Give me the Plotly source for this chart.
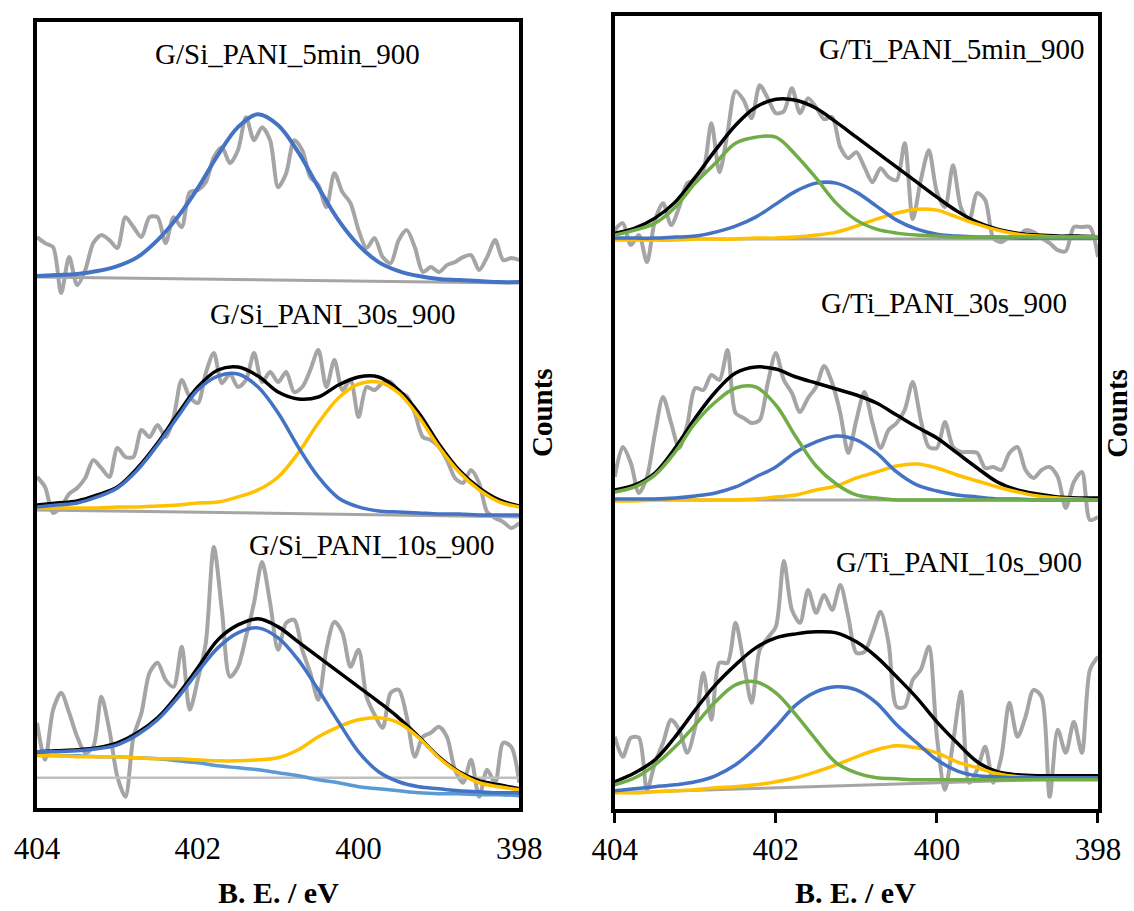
import plotly.graph_objects as go

# ---------------- data (binding energy in eV, stacked counts in arbitrary units) ----------------
E_RAW = [404.0, 403.9, 403.8, 403.7, 403.6, 403.5, 403.4, 403.3, 403.2, 403.1,
         403.0, 402.9, 402.8, 402.7, 402.6, 402.5, 402.4, 402.3, 402.2, 402.1,
         402.0, 401.9, 401.8, 401.7, 401.6, 401.5, 401.4, 401.3, 401.2, 401.1,
         401.0, 400.9, 400.8, 400.7, 400.6, 400.5, 400.4, 400.3, 400.2, 400.1,
         400.0, 399.9, 399.8, 399.7, 399.6, 399.5, 399.4, 399.3, 399.2, 399.1,
         399.0, 398.9, 398.8, 398.7, 398.6, 398.5, 398.4, 398.3, 398.2, 398.1, 398.0]
E_FIT = [404.0, 403.75, 403.5, 403.25, 403.0, 402.75, 402.5, 402.25, 402.0, 401.75,
         401.5, 401.25, 401.0, 400.75, 400.5, 400.25, 400.0, 399.75, 399.5, 399.25,
         399.0, 398.75, 398.5, 398.25, 398.0]
E_BG = [404.0, 398.0]
X_TICKS = [404, 402, 400, 398]

# --- G/Si_PANI_5min_900 ---
si5_raw = [573, 567, 563, 517, 553, 525, 540, 567, 575, 570,
           562, 593, 583, 573, 593, 593, 567, 593, 583, 618,
           620, 628, 653, 663, 647, 660, 693, 670, 683, 670,
           623, 637, 670, 660, 633, 625, 603, 637, 618, 607,
           580, 562, 572, 553, 547, 570, 580, 563, 538, 543,
           538, 545, 548, 553, 555, 540, 553, 570, 550, 552, 550]
si5_bg = [533, 527]
si5_blue = [534, 535, 536, 539, 544, 553, 570, 593, 622, 655, 683, 696, 685,
            658, 623, 590, 565, 548, 539, 534, 531, 530, 529, 528, 528]

# --- G/Si_PANI_30s_900 ---
si30_raw = [333, 323, 297, 303, 316, 322, 332, 350, 342, 333,
            362, 353, 353, 380, 373, 385, 373, 393, 430, 413,
            407, 437, 457, 427, 436, 423, 430, 457, 428, 438,
            428, 438, 418, 423, 440, 460, 423, 450, 420, 430,
            393, 423, 420, 427, 428, 418, 414, 397, 373, 370,
            363, 350, 332, 327, 340, 327, 298, 292, 288, 282, 287]
si30_bg = [300, 293]
si30_black = [305, 307, 309, 315, 323, 342, 367, 396, 423, 440, 443, 434, 418,
              411, 413, 425, 433, 433, 420, 397, 366, 340, 322, 310, 304]
si30_blue = [303, 305, 307, 313, 322, 340, 365, 393, 420, 434, 436, 423, 397,
             363, 333, 312, 303, 299, 298, 297, 296, 296, 295, 295, 295]
si30_orange = [302, 302, 302, 302, 303, 303, 304, 305, 307, 308, 313, 320, 333,
               357, 387, 412, 426, 428, 417, 393, 363, 338, 320, 308, 303]

# --- G/Si_PANI_10s_900 ---
si10_raw = [87, 50, 100, 117, 97, 73, 57, 63, 113, 80,
            33, 13, 73, 97, 137, 147, 130, 123, 163, 100,
            130, 167, 263, 200, 133, 143, 173, 207, 248, 207,
            160, 187, 190, 160, 137, 110, 160, 188, 177, 143,
            160, 113, 95, 82, 117, 120, 93, 53, 73, 77,
            83, 73, 40, 27, 50, 13, 40, 27, 67, 63, 27]
si10_flat = [32, 32]
si10_bg = [55, 54, 54, 53, 53, 52, 51, 49, 47, 44, 42, 40, 37,
           34, 30, 27, 23, 21, 19, 17, 16, 16, 15, 15, 14]
si10_black = [58, 59, 60, 62, 67, 77, 92, 115, 142, 170, 185, 191, 183,
              168, 153, 138, 123, 108, 92, 73, 53, 38, 29, 25, 21]
si10_blue = [58, 58, 59, 61, 65, 75, 90, 112, 138, 162, 177, 182, 172,
             150, 120, 88, 58, 38, 28, 23, 21, 19, 18, 17, 17]
si10_orange = [54, 54, 53, 53, 53, 52, 51, 51, 50, 49, 49, 50, 52,
               60, 73, 83, 90, 92, 87, 72, 52, 37, 27, 23, 20]

# --- G/Ti_PANI_5min_900 ---
ti5_raw = [581, 588, 566, 576, 549, 591, 608, 586, 604, 628,
           631, 641, 688, 639, 678, 720, 711, 693, 726, 713,
           698, 700, 723, 698, 713, 704, 692, 694, 664, 653,
           659, 644, 629, 643, 634, 631, 668, 592, 631, 661,
           619, 604, 646, 603, 591, 618, 611, 573, 569, 574,
           574, 581, 579, 573, 568, 561, 560, 584, 584, 584, 554]
ti5_bg = [572, 572]
ti5_black = [578, 583, 593, 609, 634, 661, 686, 704, 712, 711, 703, 689, 674,
             659, 644, 629, 614, 600, 589, 582, 578, 576, 575, 575, 574]
ti5_green = [576, 581, 588, 604, 628, 648, 668, 674, 674, 656, 633, 608, 591,
             582, 578, 576, 575, 574, 574, 574, 574, 574, 574, 574, 574]
ti5_blue = [573, 573, 573, 574, 575, 579, 585, 594, 607, 620, 628, 628, 619,
            605, 591, 582, 577, 575, 574, 574, 573, 573, 573, 573, 573]
ti5_orange = [571, 571, 571, 571, 572, 572, 572, 573, 573, 574, 576, 579, 585,
              592, 598, 602, 601, 594, 587, 581, 577, 575, 574, 574, 574]

# --- G/Ti_PANI_30s_900 ---
ti30_raw = [334, 364, 348, 318, 334, 378, 414, 388, 363, 386,
            423, 421, 436, 431, 461, 398, 393, 388, 391, 428,
            458, 431, 418, 399, 413, 424, 445, 428, 398, 358,
            391, 419, 388, 363, 381, 388, 401, 429, 391, 364,
            363, 389, 364, 359, 359, 358, 343, 344, 341, 358,
            364, 341, 333, 341, 344, 334, 303, 329, 339, 291, 294]
ti30_bg = [311, 311]
ti30_black = [321, 326, 338, 363, 393, 419, 438, 444, 442, 434, 428, 422, 416,
              408, 396, 384, 373, 358, 343, 329, 321, 317, 314, 313, 313]
ti30_green = [319, 324, 336, 359, 388, 409, 423, 424, 406, 374, 345, 327, 316,
              313, 311, 311, 311, 311, 311, 311, 311, 311, 311, 311, 311]
ti30_blue = [312, 312, 312, 313, 315, 318, 324, 334, 344, 359, 369, 375, 371,
             358, 339, 326, 320, 316, 314, 312, 312, 311, 311, 311, 311]
ti30_orange = [310, 310, 311, 311, 311, 311, 311, 312, 314, 316, 321, 325, 333,
               339, 345, 347, 343, 336, 330, 324, 319, 315, 313, 312, 311]

# --- G/Ti_PANI_10s_900 ---
ti10_raw = [74, 54, 73, 73, 21, 48, 68, 91, 81, 58,
            84, 138, 91, 148, 148, 188, 149, 108, 161, 173,
            184, 250, 201, 188, 221, 198, 216, 201, 226, 194,
            158, 159, 178, 199, 168, 104, 104, 131, 141, 164,
            74, 21, 68, 119, 28, 41, 64, 28, 54, 108,
            74, 94, 121, 114, 14, 81, 58, 89, 58, 141, 154]
ti10_bg = [18, 33]
ti10_black = [29, 38, 51, 74, 101, 126, 146, 163, 173, 177, 179, 178, 169,
              154, 134, 113, 89, 68, 49, 39, 36, 35, 35, 35, 35]
ti10_green = [26, 33, 46, 64, 86, 109, 126, 129, 118, 96, 71, 48, 38,
              33, 32, 31, 31, 31, 31, 31, 31, 31, 31, 31, 31]
ti10_blue = [20, 22, 24, 26, 29, 35, 46, 63, 84, 106, 119, 124, 121,
             108, 86, 68, 51, 40, 35, 34, 33, 33, 33, 33, 33]
ti10_orange = [18, 18, 19, 20, 21, 23, 24, 26, 29, 33, 39, 46, 54,
               61, 65, 63, 58, 49, 43, 37, 34, 33, 33, 33, 33]

LABELS_SI = ["G/Si_PANI_5min_900", "G/Si_PANI_30s_900", "G/Si_PANI_10s_900"]
LABELS_TI = ["G/Ti_PANI_5min_900", "G/Ti_PANI_30s_900", "G/Ti_PANI_10s_900"]

# ---------------- styling ----------------
GRAY = "#A5A5A5"
LGRAY = "#BFBFBF"
BLUE = "#4472C4"
LBLUE = "#5B9BD5"
ORANGE = "#FFC000"
GREEN = "#70AD47"
BLACK = "#000000"
FONT = "Liberation Serif, Times New Roman, serif"

W, H = 1134, 911
OFF = 0          # page offset of the figure (body margin removed below)
LW = 3.5         # frame line width
HALF = LW / 2

# plot area (in page pixels) spanning both panels
AREA_L, AREA_R = 35 + HALF, 1100 - HALF
AREA_T, AREA_B = 14 + HALF, 811 - HALF
ML = AREA_L - OFF
MT = AREA_T - OFF
MR = W - (AREA_R - OFF)
MB = H - (AREA_B - OFF)
PW = AREA_R - AREA_L
PH = AREA_B - AREA_T


def px_x(px):
    return (px - AREA_L) / PW


def px_y(py):
    return (AREA_B - py) / PH


fig = go.Figure()


def raw(x, y, ax):
    fig.add_trace(go.Scatter(x=x, y=y, mode="lines", xaxis=ax[0], yaxis=ax[1],
                             line=dict(color=GRAY, width=4, shape="spline", smoothing=0.8),
                             hoverinfo="skip", showlegend=False))


def fit(x, y, ax, color, width=3.5):
    fig.add_trace(go.Scatter(x=x, y=y, mode="lines", xaxis=ax[0], yaxis=ax[1],
                             line=dict(color=color, width=width, shape="spline", smoothing=1.0),
                             hoverinfo="skip", showlegend=False))


L = ("x", "y")
R = ("x2", "y2")

# left panel
raw(E_RAW, si5_raw, L)
fit(E_BG, si5_bg, L, GRAY, 3)
fit(E_FIT, si5_blue, L, BLUE, 4)

raw(E_RAW, si30_raw, L)
fit(E_BG, si30_bg, L, GRAY, 3)
fit(E_FIT, si30_black, L, BLACK, 3.5)
fit(E_FIT, si30_orange, L, ORANGE, 3.5)
fit(E_FIT, si30_blue, L, BLUE, 3.5)

raw(E_RAW, si10_raw, L)
fit(E_BG, si10_flat, L, LGRAY, 2.5)
fit(E_FIT, si10_bg, L, LBLUE, 3.5)
fit(E_FIT, si10_black, L, BLACK, 3.5)
fit(E_FIT, si10_orange, L, ORANGE, 3.5)
fit(E_FIT, si10_blue, L, BLUE, 3.5)

# right panel
for rw, bg, bk, og, bl, gr in [
    (ti5_raw, ti5_bg, ti5_black, ti5_orange, ti5_blue, ti5_green),
    (ti30_raw, ti30_bg, ti30_black, ti30_orange, ti30_blue, ti30_green),
    (ti10_raw, ti10_bg, ti10_black, ti10_orange, ti10_blue, ti10_green),
]:
    raw(E_RAW, rw, R)
    fit(E_BG, bg, R, GRAY, 3)
    fit(E_FIT, bk, R, BLACK, 3.5)
    fit(E_FIT, og, R, ORANGE, 3.5)
    fit(E_FIT, bl, R, BLUE, 3.5)
    fit(E_FIT, gr, R, GREEN, 3.5)

xcommon = dict(range=[404, 398], tickmode="array", tickvals=X_TICKS,
               ticktext=[str(t) for t in X_TICKS],
               showline=True, mirror=True, linecolor=BLACK, linewidth=LW,
               showgrid=False, zeroline=False, ticks="outside", ticklen=10, tickwidth=3,
               tickfont=dict(family=FONT, size=31, color=BLACK))
ycommon = dict(showline=True, mirror=True, linecolor=BLACK, linewidth=LW,
               showgrid=False, zeroline=False, showticklabels=False, ticks="")

fig.update_layout(
    width=W, height=H,
    margin=dict(l=ML, r=MR, t=MT, b=MB),
    paper_bgcolor="white", plot_bgcolor="white",
    showlegend=False,
    xaxis=dict(domain=[px_x(35 + HALF), px_x(521 - HALF)], anchor="y",
               **{**xcommon, "tickcolor": "rgba(0,0,0,0)"}),
    yaxis=dict(domain=[px_y(810 - HALF), px_y(20 + HALF)], anchor="x",
               range=[HALF, 790 - HALF], **ycommon),
    xaxis2=dict(domain=[px_x(613 + HALF), px_x(1100 - HALF)], anchor="y2",
                tickcolor=BLACK, **xcommon),
    yaxis2=dict(domain=[px_y(811 - HALF), px_y(14 + HALF)], anchor="x2",
                range=[HALF, 797 - HALF], **ycommon),
)

ann = []
for txt, (cx, cy) in zip(LABELS_SI + LABELS_TI,
                         [(287, 54), (332, 314), (371, 545), (952, 49), (944, 303), (959, 562)]):
    ann.append(dict(text=txt, x=px_x(cx), y=px_y(cy), xref="paper", yref="paper",
                    xanchor="center", yanchor="middle", showarrow=False,
                    font=dict(family=FONT, size=29, color=BLACK)))
for cx in (542, 1117):
    ann.append(dict(text="<b>Counts</b>", x=px_x(cx), y=px_y(413), xref="paper", yref="paper",
                    xanchor="center", yanchor="middle", showarrow=False, textangle=-90,
                    font=dict(family=FONT, size=29, color=BLACK)))
for cx in (278, 856):
    ann.append(dict(text="<b>B. E. / eV</b>", x=px_x(cx), y=px_y(893), xref="paper", yref="paper",
                    xanchor="center", yanchor="middle", showarrow=False,
                    font=dict(family=FONT, size=30, color=BLACK)))
fig.update_layout(annotations=ann)

fig.write_html(
    "out.html",
    config={"displayModeBar": False},
    post_script="document.body.style.margin='0';document.body.style.overflow='hidden';",
)
